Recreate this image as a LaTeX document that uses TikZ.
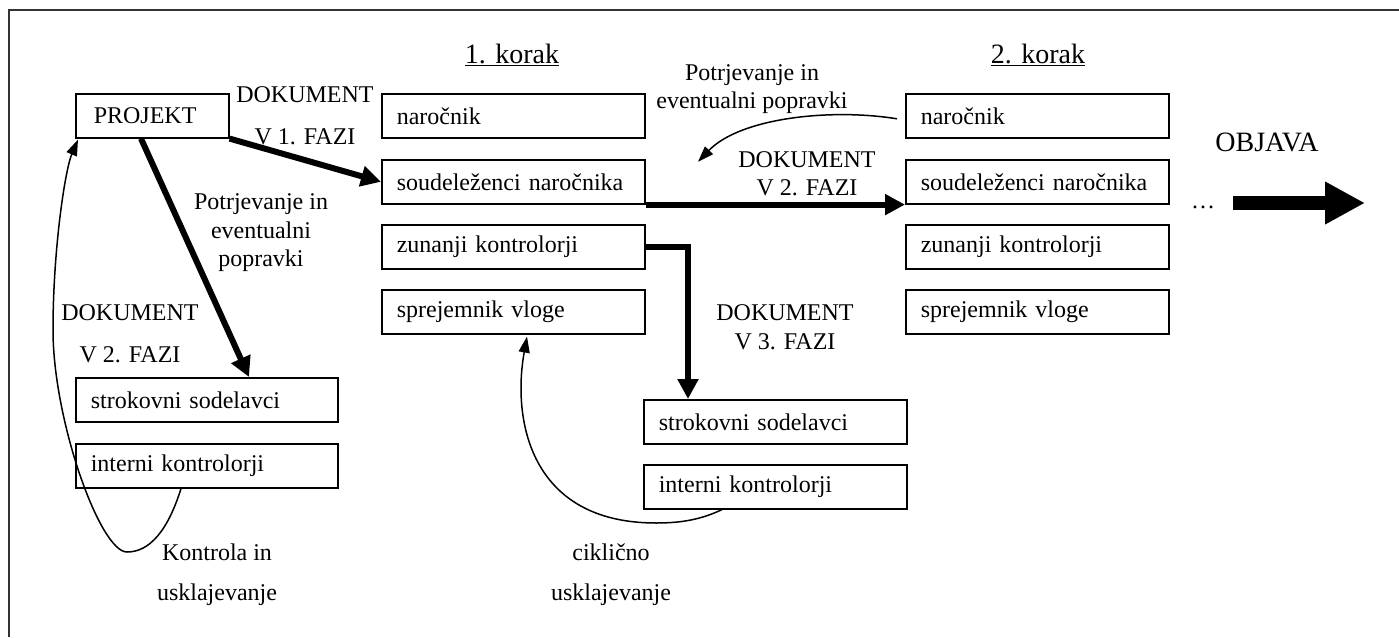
\documentclass[tikz,border=0pt]{standalone}
\usepackage{fontspec}
\setmainfont{Liberation Serif}
\usetikzlibrary{arrows.meta,calc}
\begin{document}
\begin{tikzpicture}[x=1pt,y=-1pt,
  font=\fontsize{24}{28}\selectfont,
  box/.style={draw, line width=1.6pt, minimum height=44pt, inner xsep=15pt, inner ysep=0pt,
    text width=233pt, align=left, anchor=north west},
  pbox/.style={box, inner xsep=18pt, text width=117pt},
  lbl/.style={align=center, inner sep=0pt},
  headlbl/.style={inner sep=0pt, font=\fontsize{28}{32}\selectfont},
  fatarrow/.style={line width=6pt, -{Triangle[length=20pt,width=20pt]}},
  thinarrow/.style={line width=1.5pt, -{Triangle[length=16pt,width=11pt]}},
  bigarrow/.style={line width=14pt, -{Triangle[length=40pt,width=40pt]}},
  frameline/.style={line width=1.5pt, black!80}
]
\useasboundingbox (0,0) rectangle (1399,637);
\draw[frameline] (9,637) -- (9,10) -- (1399,10);

% boxes
\node[pbox] (proj) at (75,93) {PROJEKT};
\node[box] (n1) at (381,93) {naročnik};
\node[box] (s1) at (381,159) {soudeleženci naročnika};
\node[box] (z1) at (381,224) {zunanji kontrolorji};
\node[box] (sp1) at (381,289) {sprejemnik vloge};
\node[box] (n2) at (905,93) {naročnik};
\node[box] (s2) at (905,159) {soudeleženci naročnika};
\node[box] (z2) at (905,224) {zunanji kontrolorji};
\node[box] (sp2) at (905,289) {sprejemnik vloge};
\node[box, text width=232pt] (ls) at (75,377) {strokovni sodelavci};
\node[box, text width=232pt] (li) at (75,443) {interni kontrolorji};
\node[box] (ms) at (643,399) {strokovni sodelavci};
\node[box] (mi) at (643,464) {interni kontrolorji};

% headings and labels
\node[headlbl] (k1) at (512,55) {\underline{1. korak}};
\node[headlbl] (k2) at (1038,55) {\underline{2. korak}};
\node[headlbl] (obj) at (1267,142) {OBJAVA};
\node[inner sep=0pt, anchor=base] (dots) at (1203,208) {…};
\node[lbl] (dok1) at (305,116) {DOKUMENT\\[14pt]V 1. FAZI};
\node[lbl, font=\fontsize{24}{28.5}\selectfont] (pot1) at (261,233) {Potrjevanje in\\eventualni\\popravki};
\node[lbl] (pot2) at (752,89) {Potrjevanje in\\eventualni popravki};
\node[lbl] (dok2) at (807,174) {DOKUMENT\\V 2. FAZI};
\node[lbl, font=\fontsize{24}{29}\selectfont] (dok3) at (785,327) {DOKUMENT\\V 3. FAZI};
\node[lbl] (dok2l) at (130,334) {DOKUMENT\\[14pt]V 2. FAZI};
\node[lbl] (kon) at (217,575) {Kontrola in\\[12pt]usklajevanje};
\node[lbl] (cik) at (611,575) {ciklično\\[12pt]usklajevanje};

% connectors
\draw[fatarrow] (proj.south east) -- (s1.west);
\draw[fatarrow] ($(proj.south west)+(66,0)$) -- ($(ls.north west)+(174,0)$);
\draw[fatarrow] (s1.south east) -- (s2.south west);
\draw[fatarrow] (z1.east) -| ($(ms.north west)+(45,0)$);
\draw[thinarrow] ($(n2.west)+(-8,3)$) .. controls (830,108) and (740,118) .. ($(s2.west)+(-207,-20)$);
\draw[thinarrow] ($(li.south west)+(106,0)$) .. controls (168,530) and (150,552) .. (127,552)
   .. controls (100,552) and (53,420) .. (53,330)
   .. controls (53,250) and (65,170) .. ($(proj.south west)+(3,1)$);
\draw[thinarrow] ($(mi.south west)+(79,0)$) .. controls (700,520) and (680,523) .. (656,523)
   .. controls (530,523) and (512,420) .. ($(sp1.south west)+(146,2)$);

% final arrow
\coordinate (ba1) at (1233,203);
\coordinate (ba2) at (1365,203);
\draw[bigarrow] (ba1) -- (ba2);
\end{tikzpicture}
\end{document}
